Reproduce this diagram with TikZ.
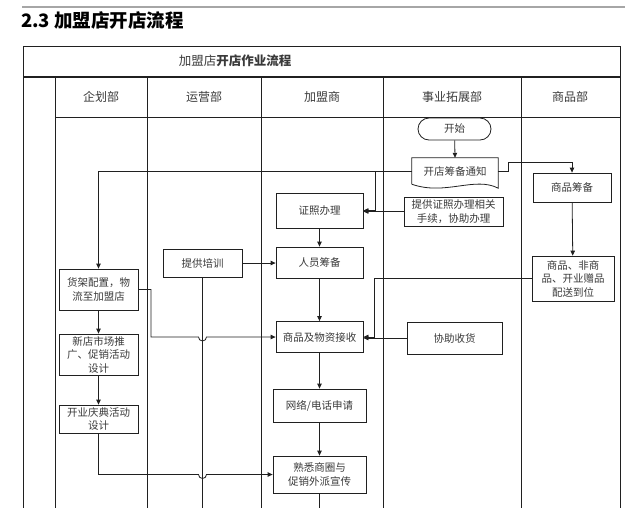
\documentclass[tikz,border=0pt]{standalone}
\usepackage{fontspec}
\setmainfont{Noto Sans CJK SC}
\usetikzlibrary{arrows.meta}
\definecolor{txt}{HTML}{3A3A3A}
\definecolor{ln}{HTML}{202020}
\begin{document}
\begin{tikzpicture}[x=1pt,y=-1pt,
  box/.style={draw=ln, line width=0.8pt, fill=white, text=txt, align=center, inner sep=1pt,
    font=\fontsize{10.5}{13.5}\selectfont},
  hdr/.style={text=txt, font=\fontsize{12}{14}\selectfont},
  arr/.style={draw=ln, line width=0.8pt, -{Triangle[length=5pt,width=4.5pt]}},
  con/.style={draw=ln, line width=0.8pt},
  grid/.style={draw=ln, line width=0.9pt}]
\useasboundingbox (0,0) rectangle (640,507);
% top rule and heading
\draw[line width=1.6pt, color=black!35] (22,7) -- (625,7);
\node[anchor=west, inner sep=0pt, font=\fontsize{18.5}{21}\selectfont\bfseries] (heading) at (21,20.5) {2.3 加盟店开店流程};
% table frame (open at the bottom: the table continues below)
\draw[grid] (23,510) -- (23,46) -- (620,46) -- (620,510);
\draw[line width=2pt, color=ln] (23,77) -- (620,77);
\draw[grid] (55,117) -- (620,117);
\foreach \xx in {55,147,261,383,521} { \draw[grid] (\xx,77) -- (\xx,510); }
\node[text=txt, font=\fontsize{12.5}{14}\selectfont] (tabtitle) at (235,61) {加盟店\textbf{开店作业流程}};
\node[hdr] (h1) at (101,97) {企划部};
\node[hdr] (h2) at (204,97) {运营部};
\node[hdr] (h3) at (322,97) {加盟商};
\node[hdr] (h4) at (452,97) {事业拓展部};
\node[hdr] (h5) at (570,97) {商品部};
% nodes
\node[box, rounded corners=11pt, minimum width=73pt, minimum height=22pt] (start) at (454.5,129) {开始};
\node[text=txt, inner sep=0pt, font=\fontsize{10.5}{13.5}\selectfont, minimum width=86pt, minimum height=26pt] (notice) at (455,171) {开店筹备通知};
\draw[con] (notice.south west) -- (notice.north west) -- (notice.north east) -- ([yshift=-4pt]notice.south east)
  .. controls (475,176) and (445,196) .. (notice.south west);
\node[box, minimum width=99pt, minimum height=29pt] (support) at (453.5,211.5) {提供证照办理相关\\手续，协助办理};
\node[box, minimum width=78pt, minimum height=29pt] (goodsprep) at (572,187.5) {商品筹备};
\node[box, minimum width=82pt, minimum height=45pt] (deliver) at (573,278.5) {商品、非商\\品、开业赠品\\配送到位};
\node[box, minimum width=87pt, minimum height=35pt] (license) at (319.5,210.5) {证照办理};
\node[box, minimum width=87pt, minimum height=31pt] (staff) at (319.5,262.5) {人员筹备};
\node[box, minimum width=87pt, minimum height=31pt] (receive) at (319.5,337) {商品及物资接收};
\node[box, minimum width=93pt, minimum height=33pt] (network) at (319.5,405.5) {网络/电话申请};
\node[box, minimum width=93pt, minimum height=37pt] (familiar) at (319.5,474.5) {熟悉商圈与\\促销外派宣传};
\node[box, minimum width=95pt, minimum height=32pt] (assist) at (454.5,338) {协助收货};
\node[box, minimum width=79pt, minimum height=28pt] (training) at (202.5,263) {提供培训};
\node[box, minimum width=79pt, minimum height=41pt] (shelf) at (98.5,289.5) {货架配置，物\\流至加盟店};
\node[box, minimum width=79pt, minimum height=41pt] (promo) at (98.5,354.5) {新店市场推\\广、促销活动\\设计};
\node[box, minimum width=79pt, minimum height=28pt] (celeb) at (98.5,419) {开业庆典活动\\设计};
% coordinates
\coordinate (j1) at (375,171);
\coordinate (k1) at (508,162);
\coordinate (j2) at (374,300);
\coordinate (j3) at (151,300);
\coordinate (end1) at (319.5,510);
\coordinate (end2) at (202.5,510);
% connectors
\draw[arr] (start) -- (notice.north);
\draw[arr] (notice.west) -| (shelf.north);
\draw[arr] (j1) |- (license.east);
\draw[arr] (support.west) -- (support.west -| license.east);
\draw[arr] (notice.east) -| (k1) -| (goodsprep.north);
\draw[arr] (goodsprep) -- (deliver);
\draw[arr] (deliver.west) -| (j2 |- receive.east) -- (receive.east);
\draw[arr] (assist.west) -- (assist.west -| receive.east);
\draw[arr] (license) -- (staff);
\draw[arr] (staff) -- (receive);
\draw[arr] (receive) -- (network);
\draw[arr] (network) -- (familiar);
\draw[con] (familiar.south) -- (end1);
\draw[arr] (training.east) -- (training.east -| staff.west);
\draw[con] (training.south) -- (end2);
\draw[arr] (shelf) -- (promo);
\draw[arr] (promo) -- (celeb);
\draw[arr] (shelf.east) -| (j3 |- receive.west) -- ([xshift=-4pt]end2 |- receive.west)
  arc[start angle=180, end angle=360, radius=4pt] -- (receive.west);
\draw[arr] (celeb.south) |- ([xshift=-4pt]end2 |- familiar.west)
  arc[start angle=180, end angle=360, radius=4pt] -- (familiar.west);
\end{tikzpicture}
\end{document}
